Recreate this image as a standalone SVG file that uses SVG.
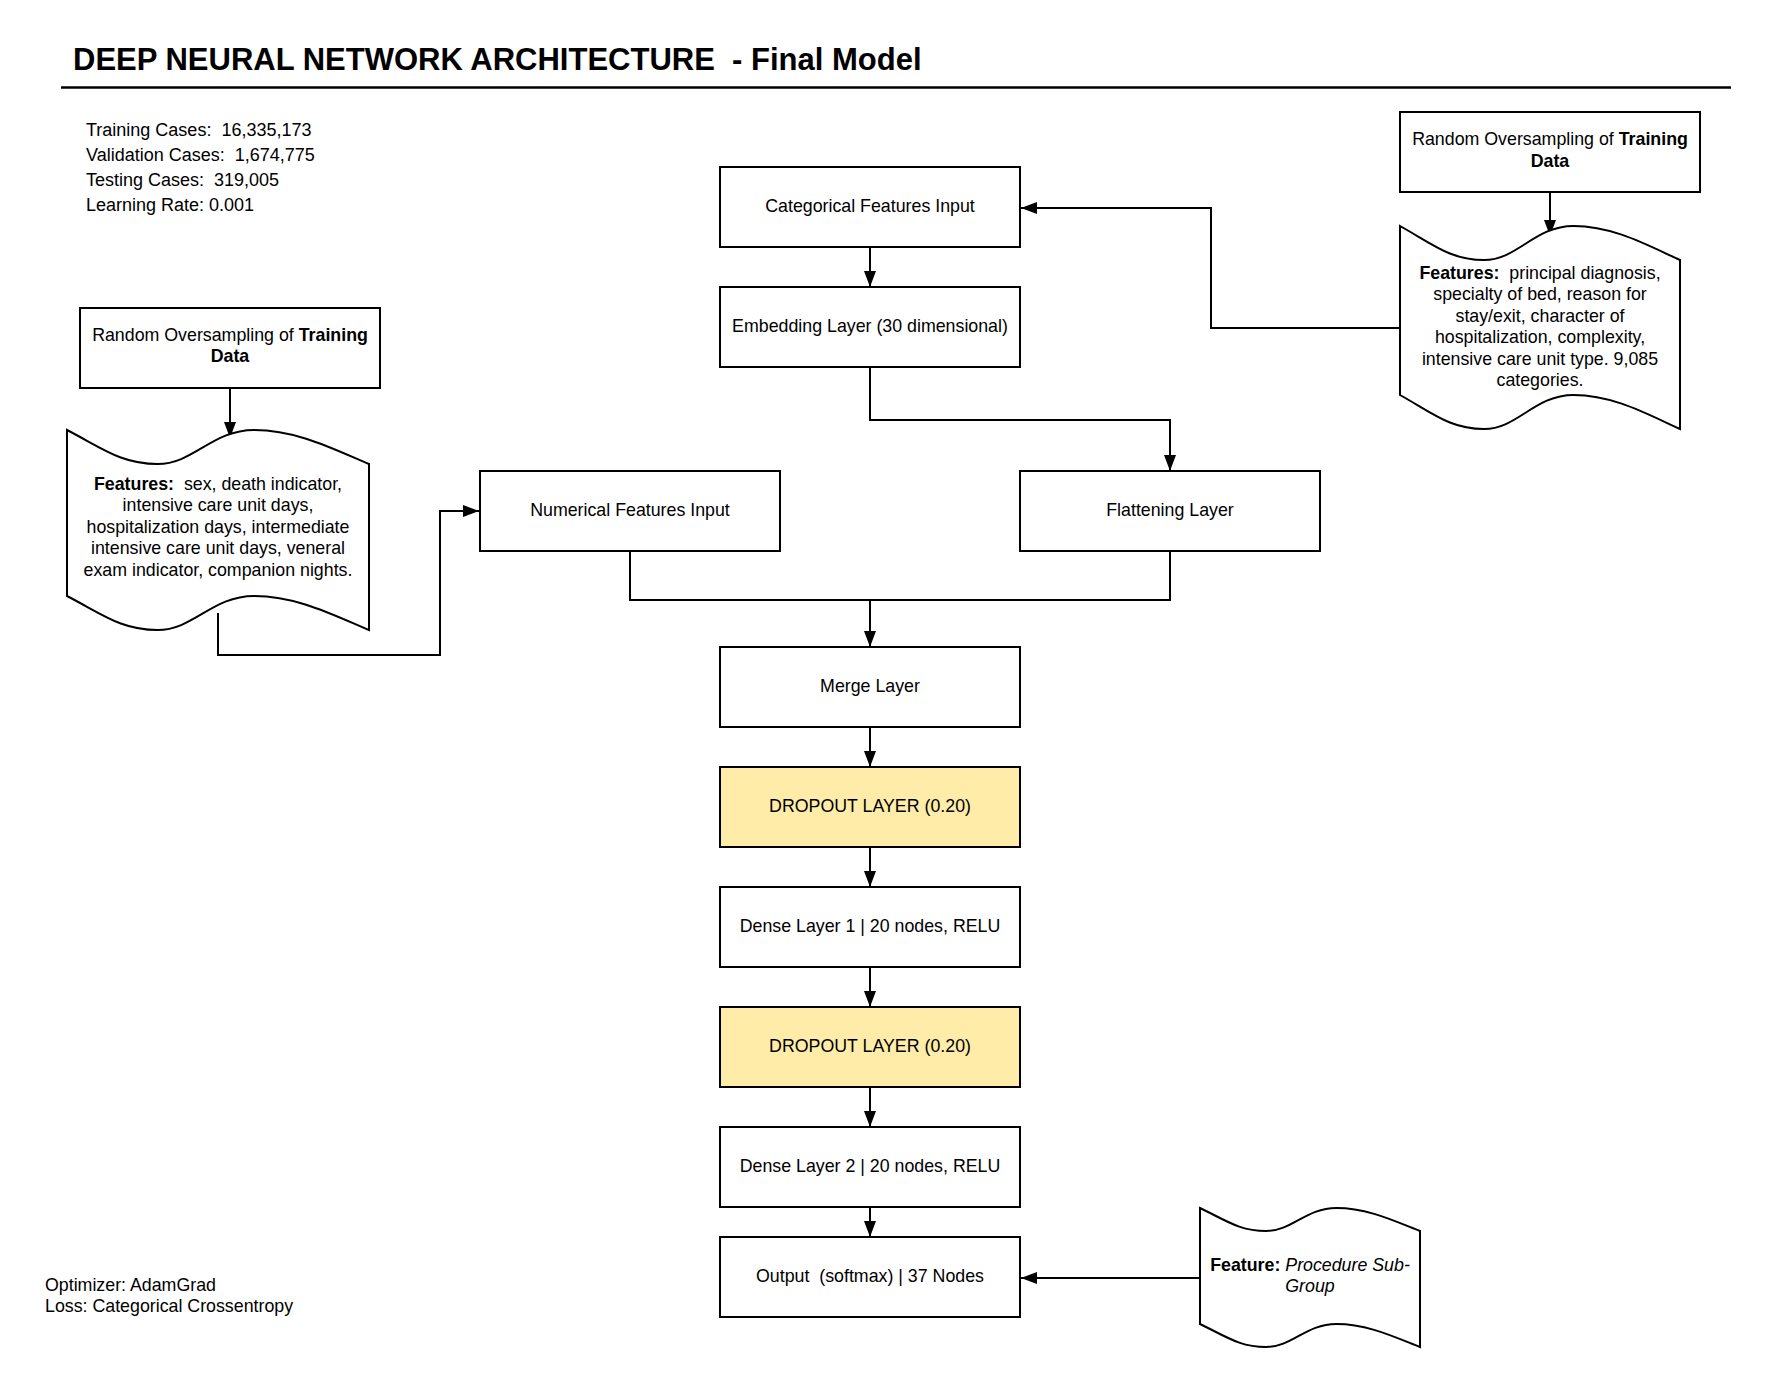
<svg xmlns="http://www.w3.org/2000/svg" width="1788" height="1388" viewBox="0 0 1788 1388">
<defs>
<style>
text{font-family:"Liberation Sans",Arial,sans-serif;font-size:17.8px;fill:#000;white-space:pre}
.c{text-anchor:middle}
.b{font-weight:bold}
.i{font-style:italic}
.box{fill:#fff;stroke:#000;stroke-width:2}
.drop{fill:#FFECA9;stroke:#000;stroke-width:2}
.doc{fill:#fff;stroke:#000;stroke-width:2}
.conn path{fill:none;stroke:#000;stroke-width:2}
</style>
<marker id="arr" markerUnits="userSpaceOnUse" markerWidth="16" markerHeight="12" refX="16" refY="6" orient="auto">
<path d="M0,0 L16,6 L0,12 Z" fill="#000"/>
</marker>
</defs>
<rect width="1788" height="1388" fill="#fff"/>

<g id="title">
<text x="73" y="70" class="b" style="font-size:31px">DEEP NEURAL NETWORK ARCHITECTURE  - Final Model</text>
<line x1="61" y1="87.5" x2="1731" y2="87.5" stroke="#000" stroke-width="2.5"/>
</g>

<g id="stats">
<text x="86" y="136" style="font-size:18px">Training Cases:  16,335,173</text>
<text x="86" y="161" style="font-size:18px">Validation Cases:  1,674,775</text>
<text x="86" y="186" style="font-size:18px">Testing Cases:  319,005</text>
<text x="86" y="211" style="font-size:18px">Learning Rate: 0.001</text>
</g>

<g id="optimizer">
<text x="45" y="1291">Optimizer: AdamGrad</text>
<text x="45" y="1312.4">Loss: Categorical Crossentropy</text>
</g>

<g class="conn" id="connectors">
<path d="M870,247 V287" marker-end="url(#arr)"/>
<path d="M870,367 V420 H1170 V471" marker-end="url(#arr)"/>
<path d="M630,551 V600 H870 V647" marker-end="url(#arr)"/>
<path d="M1170,551 V600 H870"/>
<path d="M870,727 V767" marker-end="url(#arr)"/>
<path d="M870,847 V887" marker-end="url(#arr)"/>
<path d="M870,967 V1007" marker-end="url(#arr)"/>
<path d="M870,1087 V1127" marker-end="url(#arr)"/>
<path d="M870,1207 V1237" marker-end="url(#arr)"/>
<path d="M1200,1278 H1021" marker-end="url(#arr)"/>
<path d="M1400,328 H1211 V208 H1021" marker-end="url(#arr)"/>
<path d="M1550,192 V236" marker-end="url(#arr)"/>
<path d="M230,388 V438" marker-end="url(#arr)"/>
<path d="M218,613 V655 H440 V511 H479" marker-end="url(#arr)"/>
</g>

<g id="oversampling-left">
<rect class="box" x="80" y="308" width="300" height="80"/>
<text class="c" x="230" y="341">Random Oversampling of <tspan class="b">Training</tspan></text>
<text class="c b" x="230" y="362.4">Data</text>
</g>

<g id="features-left">
<path class="doc" d="M67,430 C103.2,448.7 121.4,464 157.6,464 C193.8,464 212,430 254.2,430 C296.5,430 332.8,448.7 369,464 L369,630 C332.8,614.7 296.5,596 254.2,596 C212,596 193.8,630 157.6,630 C121.4,630 103.2,614.7 67,596 Z"/>
<text class="c" x="218" y="490"><tspan class="b">Features:</tspan>  sex, death indicator,</text>
<text class="c" x="218" y="511.4">intensive care unit days,</text>
<text class="c" x="218" y="532.8">hospitalization days, intermediate</text>
<text class="c" x="218" y="554.2">intensive care unit days, veneral</text>
<text class="c" x="218" y="575.6">exam indicator, companion nights.</text>
</g>

<g id="oversampling-right">
<rect class="box" x="1400" y="112" width="300" height="80"/>
<text class="c" x="1550" y="145.2">Random Oversampling of <tspan class="b">Training</tspan></text>
<text class="c b" x="1550" y="166.6">Data</text>
</g>

<g id="features-right">
<path class="doc" d="M1400,226 C1433.6,244.7 1450.4,260 1484,260 C1517.6,260 1534.4,226 1573.6,226 C1612.8,226 1646.4,244.7 1680,260 L1680,429 C1646.4,413.7 1612.8,395 1573.6,395 C1534.4,395 1517.6,429 1484,429 C1450.4,429 1433.6,413.7 1400,395 Z"/>
<text class="c" x="1540" y="279"><tspan class="b">Features:</tspan>  principal diagnosis,</text>
<text class="c" x="1540" y="300.4">specialty of bed, reason for</text>
<text class="c" x="1540" y="321.8">stay/exit, character of</text>
<text class="c" x="1540" y="343.2">hospitalization, complexity,</text>
<text class="c" x="1540" y="364.6">intensive care unit type. 9,085</text>
<text class="c" x="1540" y="386">categories.</text>
</g>

<g id="categorical-input">
<rect class="box" x="720" y="167" width="300" height="80"/>
<text class="c" x="870" y="212">Categorical Features Input</text>
</g>

<g id="embedding">
<rect class="box" x="720" y="287" width="300" height="80"/>
<text class="c" x="870" y="332">Embedding Layer (30 dimensional)</text>
</g>

<g id="numerical-input">
<rect class="box" x="480" y="471" width="300" height="80"/>
<text class="c" x="630" y="516">Numerical Features Input</text>
</g>

<g id="flattening">
<rect class="box" x="1020" y="471" width="300" height="80"/>
<text class="c" x="1170" y="516">Flattening Layer</text>
</g>

<g id="merge">
<rect class="box" x="720" y="647" width="300" height="80"/>
<text class="c" x="870" y="692">Merge Layer</text>
</g>

<g id="dropout1">
<rect class="drop" x="720" y="767" width="300" height="80"/>
<text class="c" x="870" y="812">DROPOUT LAYER (0.20)</text>
</g>

<g id="dense1">
<rect class="box" x="720" y="887" width="300" height="80"/>
<text class="c" x="870" y="932">Dense Layer 1 | 20 nodes, RELU</text>
</g>

<g id="dropout2">
<rect class="drop" x="720" y="1007" width="300" height="80"/>
<text class="c" x="870" y="1052">DROPOUT LAYER (0.20)</text>
</g>

<g id="dense2">
<rect class="box" x="720" y="1127" width="300" height="80"/>
<text class="c" x="870" y="1172">Dense Layer 2 | 20 nodes, RELU</text>
</g>

<g id="output">
<rect class="box" x="720" y="1237" width="300" height="80"/>
<text class="c" x="870" y="1282">Output  (softmax) | 37 Nodes</text>
</g>

<g id="feature-target">
<path class="doc" d="M1200,1208 C1226.4,1220.65 1239.6,1231 1266,1231 C1292.4,1231 1305.6,1208 1336.4,1208 C1367.2,1208 1393.6,1220.65 1420,1231 L1420,1347 C1393.6,1336.65 1367.2,1324 1336.4,1324 C1305.6,1324 1292.4,1347 1266,1347 C1239.6,1347 1226.4,1336.65 1200,1324 Z"/>
<text class="c" x="1310" y="1271"><tspan class="b">Feature:</tspan> <tspan class="i">Procedure Sub-</tspan></text>
<text class="c i" x="1310" y="1292.4">Group</text>
</g>
</svg>
